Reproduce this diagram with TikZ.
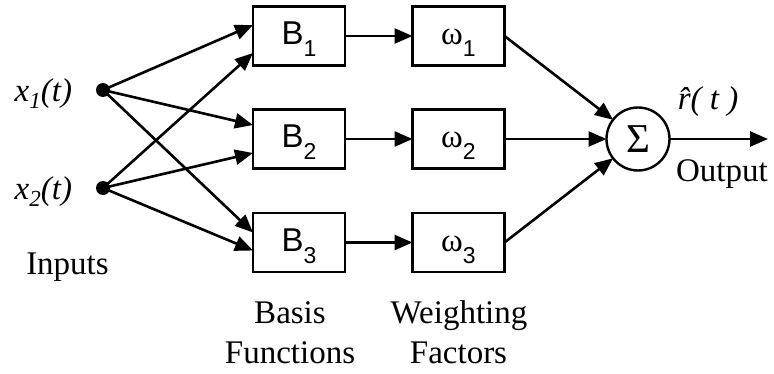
\documentclass[tikz,border=0pt]{standalone}
\usepackage{fontspec}
\setmainfont{Liberation Serif}
\newfontfamily\sansfont{Liberation Sans}
\usetikzlibrary{arrows.meta}
% lowered index used inside the blocks
\newcommand\lowsub[1]{\raisebox{-11.7pt}{\fontsize{23}{23}\selectfont #1}}
% lowered italic index for the input signals
\newcommand\insub[1]{\raisebox{-7pt}{\fontsize{23}{23}\selectfont #1}}
\begin{document}
\begin{tikzpicture}[x=1pt,y=-1pt,
  every node/.style={inner sep=0pt, outer sep=0pt},
  wire/.style={line width=2.6pt, -{Triangle[length=18pt,width=15pt]}},
  blk/.style={draw, line width=2.6pt, minimum width=92pt, minimum height=59pt,
    text height=24pt, text depth=6pt, font=\fontsize{33}{36}\sansfont},
  dot/.style={circle, fill=black, minimum size=14pt},
  lbl/.style={font=\fontsize{33}{38}\selectfont, anchor=base},
  sumnode/.style={circle, draw, line width=2.4pt, minimum size=63pt,
    font=\fontsize{41}{41}\selectfont}
]
\useasboundingbox (0,0) rectangle (774,374);

% inputs
\node[dot] (x1) at (103,90) {};
\node[dot] (x2) at (103,188) {};
\node[lbl, anchor=base east] (x1l) at (72,102) {\itshape x\insub{1}(t)};
\node[lbl, anchor=base east] (x2l) at (72,200) {\itshape x\insub{2}(t)};
\node[lbl] (inputs) at (67.5,275) {Inputs};

% basis functions
\node[blk] (b1) at (299,36) {B\lowsub{1}};
\node[blk] (b2) at (299,139) {B\lowsub{2}};
\node[blk] (b3) at (299,242.5) {B\lowsub{3}};

% weighting factors
\node[blk] (w1) at (458.5,36) {{\rmfamily ω}\lowsub{1}};
\node[blk] (w2) at (458.5,139) {{\rmfamily ω}\lowsub{2}};
\node[blk] (w3) at (458.5,242.5) {{\rmfamily ω}\lowsub{3}};

% summation
\node[sumnode] (sum) at (638,139) {Σ};
\coordinate (out) at (768,139);

% captions
\node[lbl] (bas1) at (290,323) {Basis};
\node[lbl] (bas2) at (290,363) {Functions};
\node[lbl] (wf1) at (459,323) {Weighting};
\node[lbl] (wf2) at (458.5,363) {Factors};
\node[lbl] (rhat) at (708,110) {\itshape \^{r}( t )};
\node[lbl] (outl) at (722,182) {Output};

% input fan-out
\draw[wire] (x1.center) -- ([yshift=11pt]b1.west);
\draw[wire] (x2.center) -- ([yshift=-17pt]b1.west);
\draw[wire] (x1.center) -- ([yshift=14pt]b2.west);
\draw[wire] (x2.center) -- ([yshift=-14pt]b2.west);
\draw[wire] (x1.center) -- ([yshift=10pt]b3.west);
\draw[wire] (x2.center) -- ([yshift=-8pt]b3.west);

% basis to weights
\draw[wire] (b1.east) -- (w1.west);
\draw[wire] (b2.east) -- (w2.west);
\draw[wire] (b3.east) -- (w3.west);

% weights to sum
\draw[wire] (w1.east) -- (sum);
\draw[wire] (w2.east) -- (sum);
\draw[wire] (w3.east) -- (sum);

% output
\draw[wire] (sum.east) -- (out);
\end{tikzpicture}
\end{document}
